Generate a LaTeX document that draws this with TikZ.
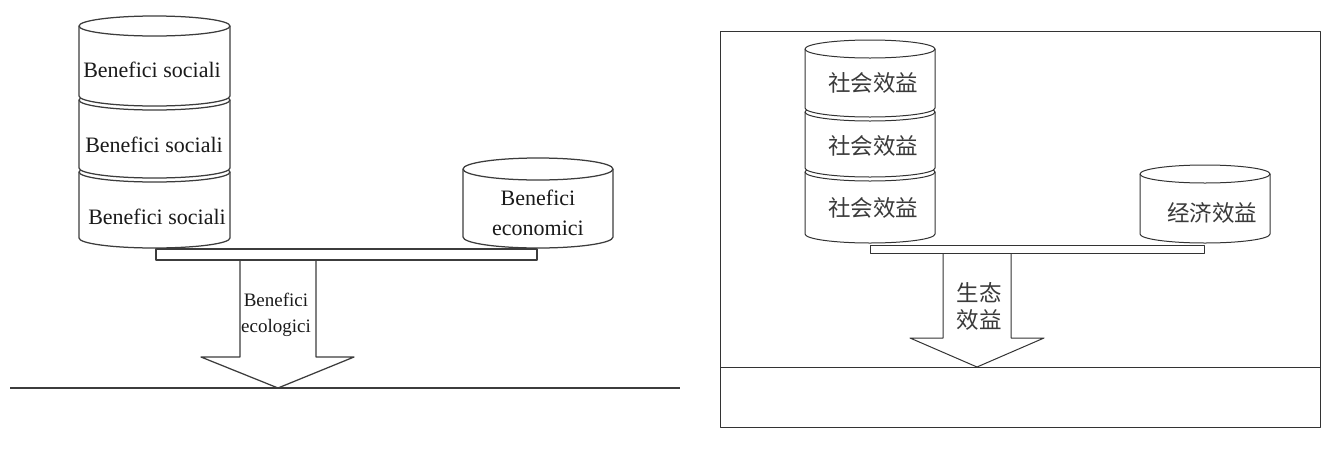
\documentclass[tikz,border=0pt]{standalone}
\usepackage{fontspec}
\setmainfont{Liberation Serif}
\newfontfamily\cjk{Noto Sans CJK SC}
\definecolor{inkL}{HTML}{3C3C3C}
\definecolor{inkR}{HTML}{333333}
\definecolor{txtL}{HTML}{1A1A1A}
\definecolor{txtR}{HTML}{3A3A3A}

% A drum (cylinder): centre x, half width, top-ellipse y, bottom-ellipse y, ellipse half height.
% Coordinates are pixels measured downward, hence the sign change.
\newcommand\drawdrum[6]{%
  \filldraw[#6, fill=white] ({#1-#2},{-#3}) -- ({#1-#2},{-#4})
    arc[start angle=180,end angle=360,x radius=#2pt,y radius=#5pt]
    -- ({#1+#2},{-#3})
    arc[start angle=0,end angle=180,x radius=#2pt,y radius=#5pt] -- cycle;
  \draw[#6] ({#1-#2},{-#3})
    arc[start angle=180,end angle=360,x radius=#2pt,y radius=#5pt];
}

\begin{document}
\begin{tikzpicture}[x=1pt,y=1pt,
  lineL/.style={draw=inkL, line width=1.25pt, line join=round},
  lineR/.style={draw=inkR, line width=1pt, line join=round},
  latin/.style={text=txtL, inner sep=0pt, align=center, font=\fontsize{22}{30}\selectfont},
  latinsmall/.style={text=txtL, inner sep=0pt, align=center, font=\fontsize{19}{26}\selectfont},
  han/.style={text=txtR, inner sep=0pt, align=center, font=\cjk\fontsize{22.5}{27}\selectfont},
]
\useasboundingbox (0,0) rectangle (1328,-453);
\fill[white] (0,0) rectangle (1328,-453);

% ---------- Italian version ----------
\draw[lineL] (10,-388) coordinate (gL1) -- (680,-388) coordinate (gL2);
% downward arrow
\filldraw[lineL, fill=white] (240,-260) -- (240,-357) -- (201,-357) -- (278,-388)
  -- (354,-357) -- (316,-357) -- (316,-260);
% balance plank
\filldraw[lineL, fill=white] (156,-249) rectangle (537,-260);
% stacked drums, lowest first
\drawdrum{154.5}{75.5}{172}{238}{10}{lineL}
\drawdrum{154.5}{75.5}{100}{168}{10}{lineL}
\drawdrum{154.5}{75.5}{26}{96}{10}{lineL}
\drawdrum{538}{75}{169}{237}{11}{lineL}

\node[latin] (sL1) at (152,-70) {Benefici sociali};
\node[latin] (sL2) at (154,-145) {Benefici sociali};
\node[latin] (sL3) at (157,-217) {Benefici sociali};
\node[latin] (eL) at (538,-213) {Benefici\\economici};
\node[latinsmall] (ecoL) at (276,-315) {Benefici\\ecologici};

% ---------- Chinese version ----------
\draw[lineR] (720,-31) rectangle (1320,-427);
\draw[lineR] (720,-367) coordinate (gR1) -- (1320,-367) coordinate (gR2);
\filldraw[lineR, fill=white] (943,-253) -- (943,-338) -- (910,-338) -- (977,-367)
  -- (1044,-338) -- (1011,-338) -- (1011,-253);
\filldraw[lineR, fill=white] (870,-245) rectangle (1204,-253);
\drawdrum{870}{65}{172}{234}{9}{lineR}
\drawdrum{870}{65}{112}{168}{9}{lineR}
\drawdrum{870}{65}{49}{108}{9}{lineR}
\drawdrum{1205}{65}{174}{234}{9}{lineR}

\node[han] (sR1) at (873,-83) {社会效益};
\node[han] (sR2) at (873,-146) {社会效益};
\node[han] (sR3) at (873,-208) {社会效益};
\node[han] (eR) at (1212,-213) {经济效益};
\node[han] (ecoR) at (979,-306) {生态\\效益};
\end{tikzpicture}
\end{document}
